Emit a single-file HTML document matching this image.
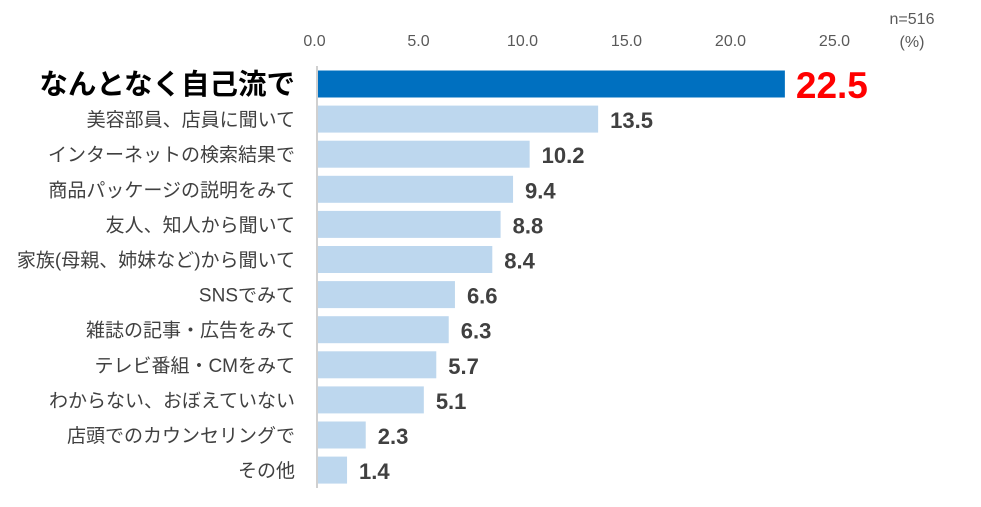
<!DOCTYPE html>
<html><head><meta charset="utf-8"><style>
body{margin:0;background:#fff;width:981px;height:502px;overflow:hidden;font-family:"Liberation Sans","Noto Sans CJK JP",sans-serif;}
svg text{font-family:"Liberation Sans","Noto Sans CJK JP",sans-serif;}
</style></head><body>
<svg id="chart" width="981" height="502" xmlns="http://www.w3.org/2000/svg">
<text x="912" y="24" font-size="16" fill="#595959" text-anchor="middle">n=516</text>
<text x="912" y="47" font-size="16" fill="#595959" text-anchor="middle">(%)</text>
<line x1="317" y1="66" x2="317" y2="488" stroke="#d0d0d0" stroke-width="2"/>
</svg>
<script>
const categories=["なんとなく自己流で","美容部員、店員に聞いて","インターネットの検索結果で","商品パッケージの説明をみて","友人、知人から聞いて","家族(母親、姉妹など)から聞いて","SNSでみて","雑誌の記事・広告をみて","テレビ番組・CMをみて","わからない、おぼえていない","店頭でのカウンセリングで","その他"];
const values=[22.5,13.5,10.2,9.4,8.8,8.4,6.6,6.3,5.7,5.1,2.3,1.4];
const ticks=[0,5,10,15,20,25];
const svg=document.getElementById('chart');
const NS='http://www.w3.org/2000/svg';
const x0=318,scale=20.75,tickX0=314.5,tickScale=20.8;
const xs=v=>x0+v*scale;
const yc=i=>84+i*35.1;
function mk(tag,attrs,txt){const e=document.createElementNS(NS,tag);for(const k in attrs)e.setAttribute(k,attrs[k]);if(txt!==undefined)e.textContent=txt;svg.appendChild(e);return e;}
ticks.forEach(t=>{
 const e=mk('text',{x:tickX0+t*tickScale,y:46,'font-size':16,fill:'#595959','text-anchor':'middle'},t.toFixed(1));
 
 
});
categories.forEach((c,i)=>{
 const first=i===0;
 const r=mk('rect',{x:x0,y:yc(i)-13.5,width:xs(values[i])-x0,height:27,fill:first?'#0070c0':'#bdd7ee'});
 
 
 const l=mk('text',{x:295,y:yc(i)+(first?10:7),'font-size':first?28.5:19,'font-weight':first?'bold':'normal',fill:first?'#000':'#404040','text-anchor':'end'},c);
 
 
 const v=mk('text',{x:xs(values[i])+(first?11:12),y:yc(i)+(first?14:9),'font-size':first?37:22,'font-weight':'bold',fill:first?'#ff0000':'#404040'},values[i].toFixed(1));
 
 
});
</script>
</body></html>
